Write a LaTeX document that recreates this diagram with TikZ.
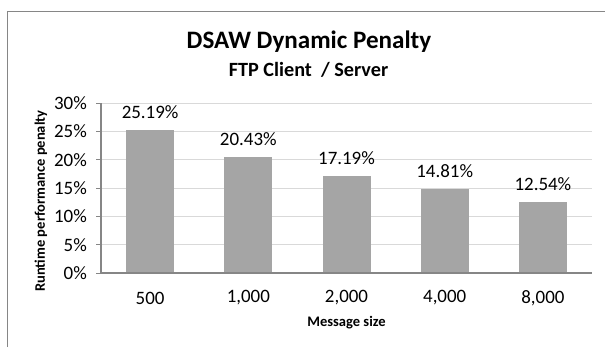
\documentclass[tikz,border=0pt]{standalone}
\usepackage{fontspec}
\setmainfont{Carlito}
\definecolor{barfill}{HTML}{A5A5A5}
\definecolor{axisgray}{HTML}{868686}
\definecolor{gridgray}{HTML}{D9D9D9}
\tikzset{
  bar/.style={fill=barfill, draw=none},
  tick label/.style={font=\fontsize{19}{21}\selectfont, inner sep=0pt},
  value label/.style={font=\fontsize{19}{21}\selectfont, inner sep=0pt},
  axis title/.style={font=\fontsize{14.6}{16}\selectfont\bfseries, inner sep=0pt},
}
\begin{document}
\begin{tikzpicture}[x=1bp, y=-1bp]
    \useasboundingbox (0,0) rectangle (605,347);
    % chart frame
    \draw[axisgray] (7,347) -- (7,11) -- (605,11);
    % titles
    \node[font=\fontsize{25.2}{28}\selectfont\bfseries, inner sep=0pt] (title) at (309,42) {DSAW Dynamic Penalty};
    \node[font=\fontsize{20.3}{23}\selectfont\bfseries, inner sep=0pt] (subtitle) at (308.5,70) {FTP Client~ / Server};
    % grid lines
    \draw[gridgray] (101,244.67) -- (592,244.67);
    \draw[gridgray] (101,216.33) -- (592,216.33);
    \draw[gridgray] (101,188) -- (592,188);
    \draw[gridgray] (101,159.67) -- (592,159.67);
    \draw[gridgray] (101,131.33) -- (592,131.33);
    \draw[gridgray] (101,103) -- (592,103);
    % bars
    \fill[bar] (126.1,273) rectangle (174.1,130.3);
    \fill[bar] (224.3,273) rectangle (272.3,157.2);
    \fill[bar] (322.5,273) rectangle (370.5,175.6);
    \fill[bar] (420.7,273) rectangle (468.7,189.1);
    \fill[bar] (518.9,273) rectangle (566.9,201.9);
    % axes
    \draw[axisgray, line width=1.2bp] (101,103) -- (101,273) -- (592,273);
    \draw[axisgray] (96,273) -- (101,273);
    \draw[axisgray] (96,244.67) -- (101,244.67);
    \draw[axisgray] (96,216.33) -- (101,216.33);
    \draw[axisgray] (96,188) -- (101,188);
    \draw[axisgray] (96,159.67) -- (101,159.67);
    \draw[axisgray] (96,131.33) -- (101,131.33);
    \draw[axisgray] (96,103) -- (101,103);
    % tick labels
    \node[tick label, anchor=east] (y_0) at (87,273) {0\%};
    \node[tick label, anchor=east] (y_1) at (87,244.67) {5\%};
    \node[tick label, anchor=east] (y_2) at (87,216.33) {10\%};
    \node[tick label, anchor=east] (y_3) at (87,188) {15\%};
    \node[tick label, anchor=east] (y_4) at (87,159.67) {20\%};
    \node[tick label, anchor=east] (y_5) at (87,131.33) {25\%};
    \node[tick label, anchor=east] (y_6) at (87,103) {30\%};
    \node[tick label] (x_1) at (150.1,298) {500};
    \node[tick label] (x_2) at (248.3,298) {1,000};
    \node[tick label] (x_3) at (346.5,298) {2,000};
    \node[tick label] (x_4) at (444.7,298) {4,000};
    \node[tick label] (x_5) at (542.9,298) {8,000};
    % value labels
    \node[value label] (v_1) at (150.1,112.5) {25.19\%};
    \node[value label] (v_2) at (248.3,139.4) {20.43\%};
    \node[value label] (v_3) at (346.5,157.8) {17.19\%};
    \node[value label] (v_4) at (444.7,171.3) {14.81\%};
    \node[value label] (v_5) at (542.9,184.1) {12.54\%};
    % axis titles
    \node[axis title] (xtitle) at (346.5,323) {Message size};
    \node[axis title, rotate=90] (ytitle) at (41,201) {Runtime performance penalty};
\end{tikzpicture}
\end{document}
